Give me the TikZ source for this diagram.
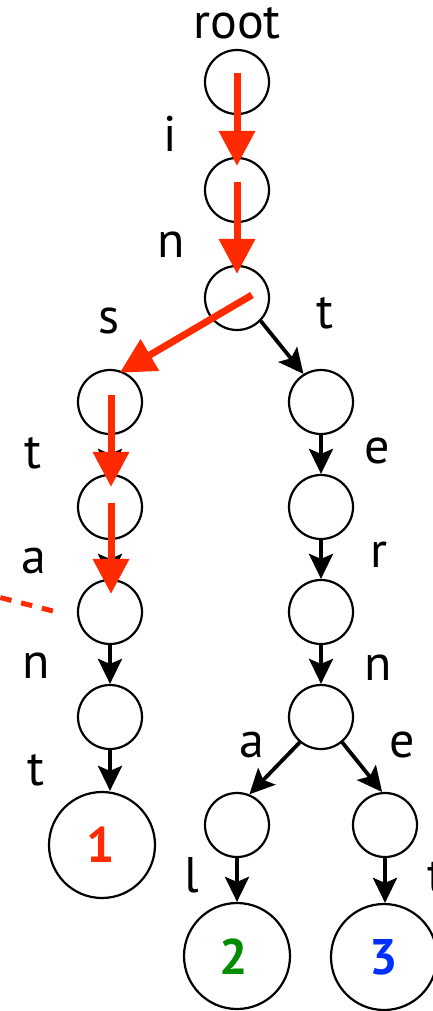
\documentclass[tikz,border=0pt]{standalone}
\usepackage{fontspec}
\setmainfont{PT Sans}
\usetikzlibrary{arrows.meta}
\definecolor{tred}{HTML}{FF2A00}
\definecolor{tgreen}{HTML}{008E00}
\definecolor{tblue}{HTML}{0030FF}
\begin{document}
\begin{tikzpicture}[x=1pt,y=-1pt,
  nodecirc/.style={circle,draw,line width=2.2pt,minimum size=64pt,inner sep=0pt},
  leafcirc/.style={nodecirc,minimum size=106pt},
  numlbl/.style={anchor=base,inner sep=0pt,font=\fontsize{50}{50}\selectfont\bfseries},
  lbl/.style={anchor=base,inner sep=0pt,font=\fontsize{50}{50}\selectfont},
  blackarrow/.style={line width=3.8pt,-{Stealth[length=25pt,width=24pt,inset=5pt]}},
  redarrow/.style={tred,line width=7pt,-{Triangle[length=35pt,width=35pt]}},
  reddash/.style={tred,line width=5pt,dash pattern=on 11.4pt off 10pt}]
\useasboundingbox (0,0) rectangle (433,1011);
\clip (0,0) rectangle (433,1011);
% nodes
\node[nodecirc] (r0) at (237,82) {};
\node[nodecirc] (n1) at (237,190) {};
\node[nodecirc] (n2) at (237,298) {};
\node[nodecirc] (ls) at (110,402) {};
\node[nodecirc] (rt) at (321,402) {};
\node[nodecirc] (lt) at (110,507) {};
\node[nodecirc] (re) at (321,507) {};
\node[nodecirc] (la) at (110,612) {};
\node[nodecirc] (rr) at (321,612) {};
\node[nodecirc] (ln) at (110,717) {};
\node[nodecirc] (rn) at (321,717) {};
\node[nodecirc] (ra) at (237,825) {};
\node[nodecirc] (rb) at (385,825) {};
\node[leafcirc] (leaf1) at (102,845) {};
\node[leafcirc] (leaf2) at (237,956) {};
\node[leafcirc] (leaf3) at (384,957) {};
% leaf numbers
\node[numlbl,text=tred] (num1) at (101,862) {1};
\node[numlbl,text=tgreen] (num2) at (234,974) {2};
\node[numlbl,text=tblue] (num3) at (384,974) {3};
% black edges
\draw[blackarrow] (r0) -- (n1);
\draw[blackarrow] (n1) -- (n2);
\draw[blackarrow] (n2.316) -- (rt.122);
\draw[blackarrow] (ls) -- (lt);
\draw[blackarrow] (lt) -- (la);
\draw[blackarrow] (la) -- (ln);
\draw[blackarrow] (ln.south) -- (ln.south |- leaf1.north);
\draw[blackarrow] (rt) -- (re);
\draw[blackarrow] (re) -- (rr);
\draw[blackarrow] (rr) -- (rn);
\draw[blackarrow] (rn.230) -- (ra.68);
\draw[blackarrow] (rn.310) -- (rb.95);
\draw[blackarrow] (ra) -- (leaf2);
\draw[blackarrow] (rb) -- (rb.south |- leaf3.north);
% red search path
\draw[redarrow] ([yshift=9pt]r0.center) -- ([yshift=-9pt]n1.north);
\draw[redarrow] ([yshift=8pt]n1.center) -- ([yshift=-9pt]n2.north);
\draw[redarrow] ([xshift=15pt,yshift=3pt]n2.center) -- ([xshift=-1pt,yshift=-2pt]ls.71);
\draw[redarrow] ([xshift=1pt,yshift=7pt]ls.center) -- ([xshift=1pt,yshift=-13pt]lt.north);
\draw[redarrow] ([xshift=1pt,yshift=4pt]lt.center) -- ([xshift=1pt,yshift=-15pt]la.north);
\coordinate (dashend) at (-2,597);
\draw[reddash] ([xshift=-24pt,yshift=1pt]la.west) -- (dashend);
% edge labels
\node[lbl] (lroot) at (237,39) {root};
\node[lbl] (li) at (170,152) {i};
\node[lbl] (ln1) at (171,257) {n};
\node[lbl] (ls1) at (109,333) {s};
\node[lbl] (lt1) at (325,328) {t};
\node[lbl] (lt2) at (33,468) {t};
\node[lbl] (le1) at (377,463) {e};
\node[lbl] (la1) at (34,573) {a};
\node[lbl] (lr1) at (379,567) {r};
\node[lbl] (ln2) at (36,678) {n};
\node[lbl] (ln3) at (378,680) {n};
\node[lbl] (lt3) at (36,785) {t};
\node[lbl] (la2) at (252,757) {a};
\node[lbl] (le2) at (402,757) {e};
\node[lbl] (ll) at (192,892) {l};
\node[lbl] (lt4) at (436,892) {t};
\end{tikzpicture}
\end{document}
